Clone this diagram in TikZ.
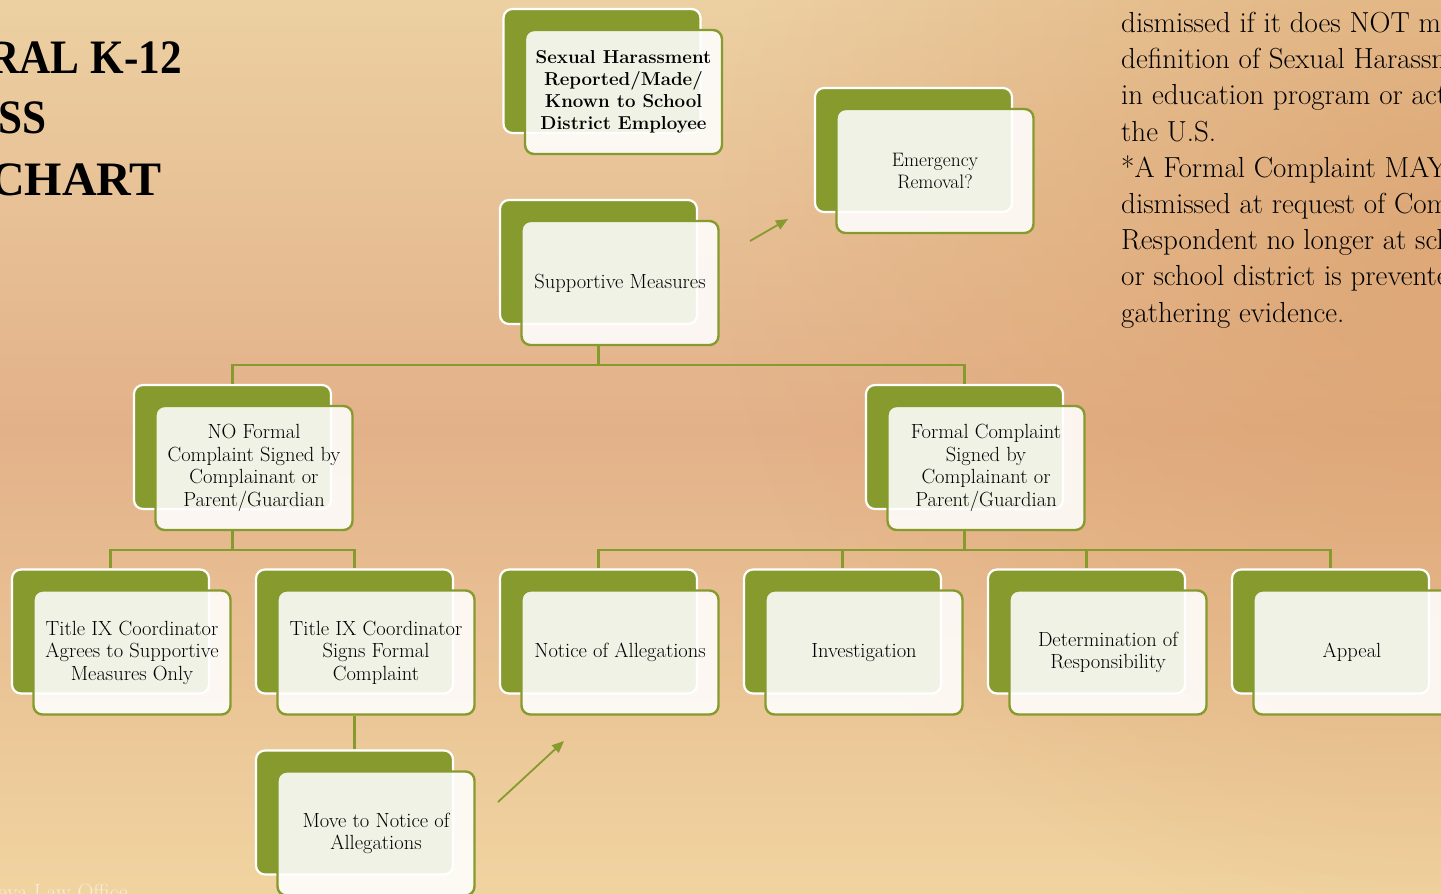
\documentclass[tikz,border=0pt]{standalone}
\usepackage{fontspec}
\newfontfamily\headfont{Liberation Serif}
\usetikzlibrary{positioning,calc,arrows.meta,fadings}
\definecolor{leaf}{HTML}{879A2E}
\definecolor{sandtop}{HTML}{ECD0A2}
\definecolor{sandmid}{HTML}{E3B189}
\definecolor{sandlow}{HTML}{F0D4A0}
\definecolor{rust}{HTML}{DA9E6A}
\tikzfading[name=glow,inner color=transparent!30,outer color=transparent!100]
\tikzset{
  backbox/.style={draw=white,fill=leaf,line width=2.2pt,rounded corners=9pt,minimum width=197pt,minimum height=124pt},
  frontbox/.style={draw=leaf,fill=white,fill opacity=0.88,text opacity=1,line width=2.4pt,rounded corners=9pt,
    minimum width=197pt,minimum height=124pt,align=center,inner sep=2pt,font=\fontsize{20.5}{22.5}\selectfont},
  headline/.style={anchor=base east,inner sep=0,font=\headfont\fontsize{48}{60}\selectfont\bfseries},
  link/.style={draw=leaf,line width=2.4pt},
  pointer/.style={draw=leaf,line width=1.8pt,-{Triangle[length=12pt,width=10pt]}},
}
\begin{document}
\begin{tikzpicture}[x=1pt,y=-1pt]
\useasboundingbox (0,0) rectangle (1441,894);
\clip (0,0) rectangle (1441,894);
\shade[top color=sandtop,bottom color=sandmid] (0,0) rectangle (1441,430);
\shade[top color=sandmid,bottom color=sandlow] (0,430) rectangle (1441,894);
\fill[rust,path fading=glow] (1441,220) circle (720);

% title and notes
\node[headline] (t1) at (182,73) {\scalebox{0.9}[1]{RAL K-12}};
\node[headline] (t2) at (47,133) {\scalebox{0.9}[1]{SS}};
\node[headline] (t3) at (162,195) {CHART};
\node[anchor=north west,inner sep=0,align=left,font=\fontsize{29}{36.2}\selectfont] (notes) at (1121,12) {%
dismissed if it does NOT m\\
definition of Sexual Harassm\\
in education program or acti\\
the U.S.\\
*A Formal Complaint MAY\\
dismissed at request of Com\\
Respondent no longer at sch\\
or school district is prevente\\
gathering evidence.};
\node[anchor=base west,inner sep=0,text=white,text opacity=0.6,font=\fontsize{22}{26}\selectfont] (office) at (-2,899) {eya Law Office};

% boxes
\node[backbox] (b1) at (602,71) {};
\node[backbox] (b2) at (598.5,262) {};
\node[backbox] (b3) at (913.5,150) {};
\node[backbox] (b4) at (232.5,447) {};
\node[backbox] (b5) at (964.5,447) {};
\node[backbox] (b6) at (110.5,631.5) {};
\node[backbox] (b7) at (354.5,631.5) {};
\node[backbox] (b8) at (598.5,631.5) {};
\node[backbox] (b9) at (842.5,631.5) {};
\node[backbox] (b10) at (1086.5,631.5) {};
\node[backbox] (b11) at (1330.5,631.5) {};
\node[backbox] (b12) at (354.5,812.5) {};

\node[frontbox,font=\fontsize{18.7}{22}\selectfont\bfseries] (f1) at ([shift={(21.5,21)}]b1) {Sexual Harassment\\Reported/Made/\\Known to School\\District Employee};
\node[frontbox] (f2) at ([shift={(21.5,21)}]b2) {Supportive Measures};
\node[frontbox,font=\fontsize{19.5}{22}\selectfont] (f3) at ([shift={(21.5,21)}]b3) {Emergency\\Removal?};
\node[frontbox] (f4) at ([shift={(21.5,21)}]b4) {NO Formal\\Complaint Signed by\\Complainant or\\Parent/Guardian};
\node[frontbox] (f5) at ([shift={(21.5,21)}]b5) {Formal Complaint\\Signed by\\Complainant or\\Parent/Guardian};
\node[frontbox] (f6) at ([shift={(21.5,21)}]b6) {Title IX Coordinator\\Agrees to Supportive\\Measures Only};
\node[frontbox] (f7) at ([shift={(21.5,21)}]b7) {Title IX Coordinator\\Signs Formal\\Complaint};
\node[frontbox] (f8) at ([shift={(21.5,21)}]b8) {Notice of Allegations};
\node[frontbox] (f9) at ([shift={(21.5,21)}]b9) {Investigation};
\node[frontbox] (f10) at ([shift={(21.5,21)}]b10) {Determination of\\Responsibility};
\node[frontbox] (f11) at ([shift={(21.5,21)}]b11) {Appeal};
\node[frontbox] (f12) at ([shift={(21.5,21)}]b12) {Move to Notice of\\Allegations};

% tree lines
\draw[link] (b2.center |- f2.south) -- ++(0,19) -| (b4.north);
\draw[link] (b2.center |- f2.south) -- ++(0,19) -| (b5.north);
\draw[link] (b4.center |- f4.south) -- ++(0,19) -| (b6.north);
\draw[link] (b4.center |- f4.south) -- ++(0,19) -| (b7.north);
\draw[link] (b5.center |- f5.south) -- ++(0,19) -| (b8.north);
\draw[link] (b5.center |- f5.south) -- ++(0,19) -| (b9.north);
\draw[link] (b5.center |- f5.south) -- ++(0,19) -| (b10.north);
\draw[link] (b5.center |- f5.south) -- ++(0,19) -| (b11.north);
\draw[link] (b7.center |- f7.south) -- (b12.north);

% arrows
\coordinate (e1) at (750,241);
\coordinate (e2) at (788,219);
\coordinate (m1) at (498,802);
\coordinate (m2) at (564,741);
\draw[pointer] (e1) -- (e2);
\draw[pointer] (m1) -- (m2);
\end{tikzpicture}
\end{document}
